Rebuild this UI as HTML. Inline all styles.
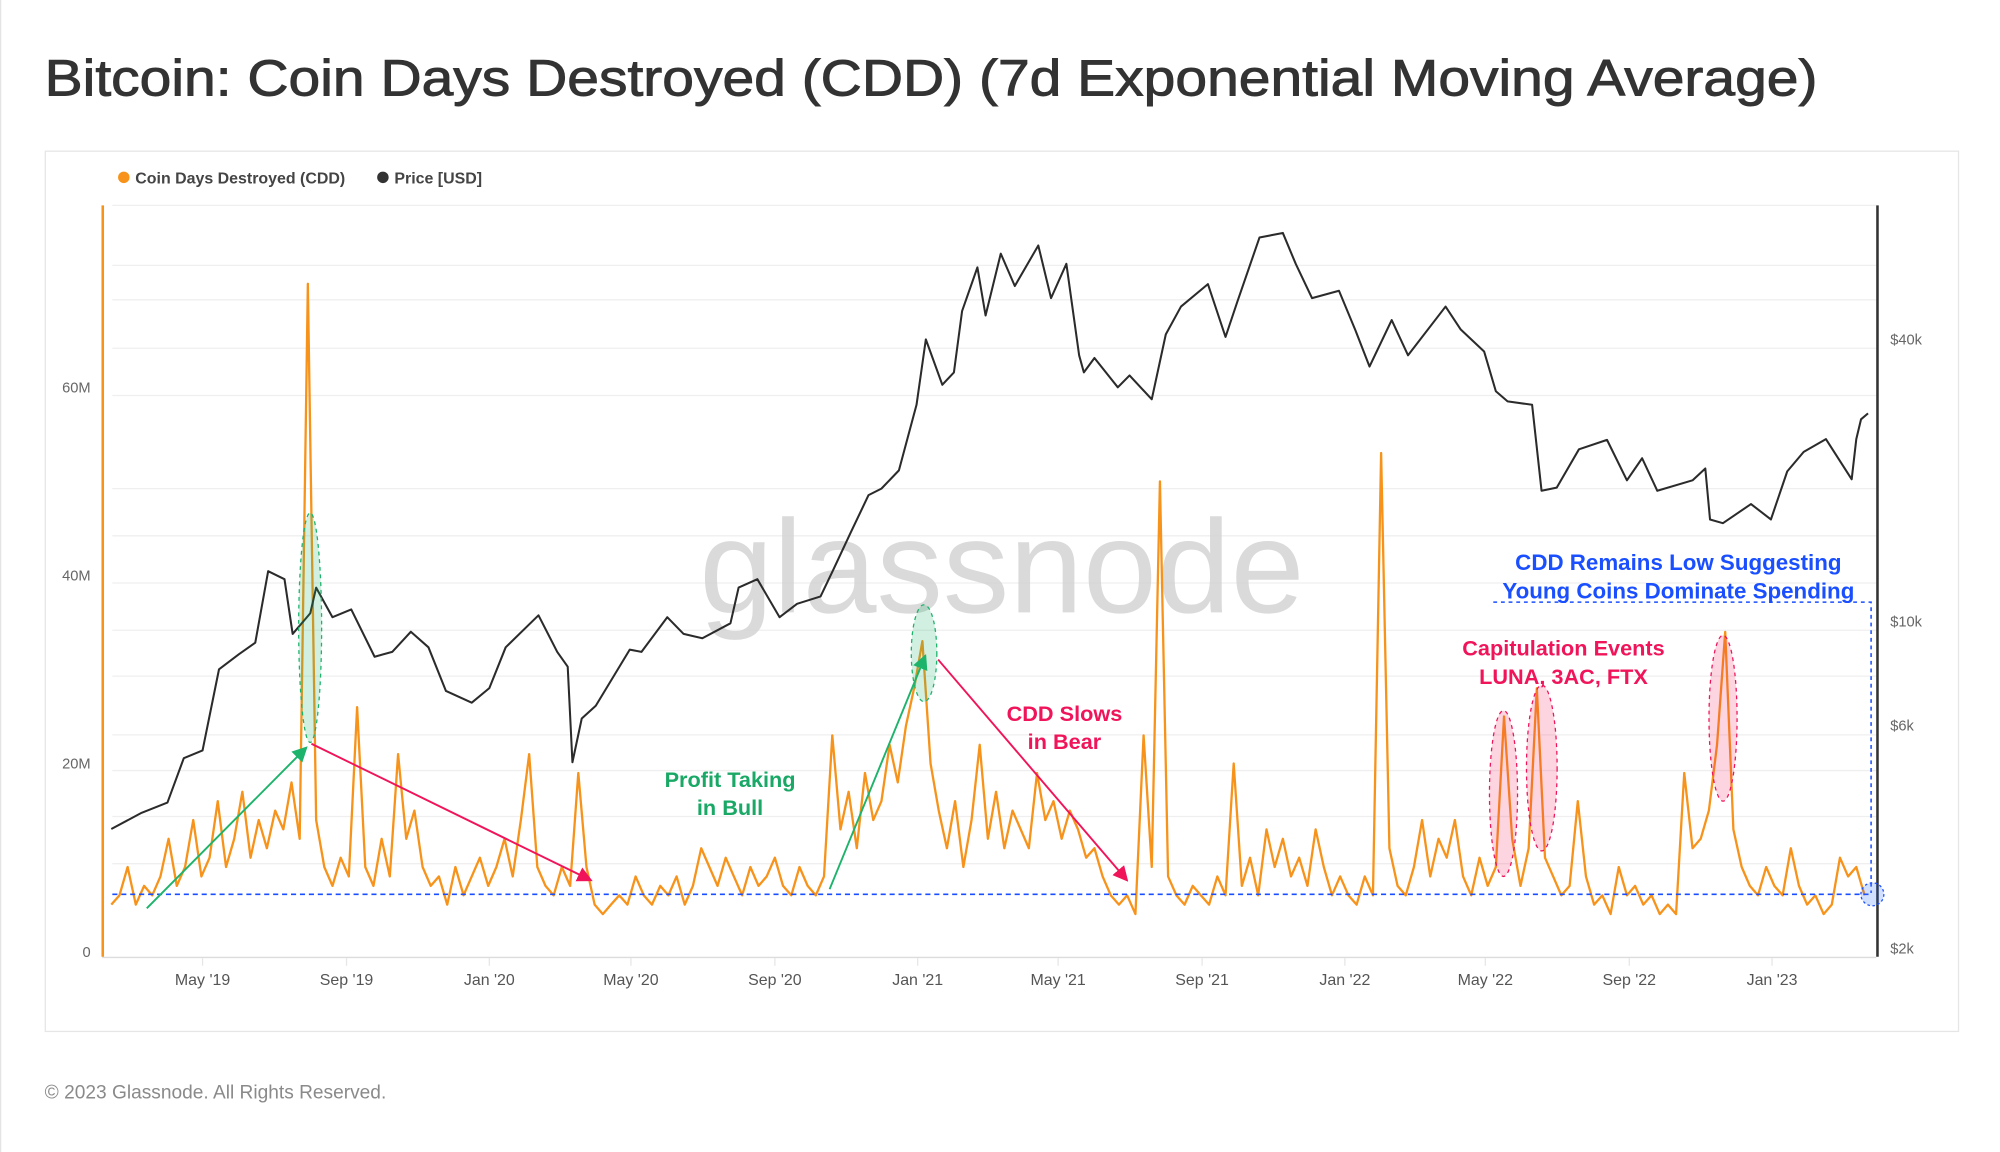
<!DOCTYPE html>
<html><head><meta charset="utf-8"><style>
html,body{margin:0;padding:0;background:#fff;}
svg{display:block;}
text{font-family:"Liberation Sans",sans-serif;}
</style></head><body>
<svg id="chart" width="2000" height="1152" viewBox="0 0 1567 903" preserveAspectRatio="none" xmlns="http://www.w3.org/2000/svg">
<rect x="0" y="0" width="1567" height="903" fill="#fff"/>
<line x1="0.5" y1="0" x2="0.5" y2="903" stroke="#e4e4e4"/>
<text x="35" y="75" font-size="40" fill="#333" stroke="#333" stroke-width="0.7" textLength="1389" lengthAdjust="spacingAndGlyphs">Bitcoin: Coin Days Destroyed (CDD) (7d Exponential Moving Average)</text>
<rect x="35.5" y="118.5" width="1499" height="690" fill="#fff" stroke="#e6e6e6"/>
<g>
<circle cx="97" cy="139" r="4.5" fill="#f7931a"/>
<text x="106" y="144" font-size="12.5" font-weight="bold" fill="#444">Coin Days Destroyed (CDD)</text>
<circle cx="300" cy="139" r="4.5" fill="#333"/>
<text x="309" y="144" font-size="12.5" font-weight="bold" fill="#444">Price [USD]</text>
</g>
<g id="grid"></g>
<g id="axes"></g>
<text x="785" y="480" font-size="104" fill="#d4d4d4" text-anchor="middle" opacity="0.85">glassnode</text>
<g id="series"></g>
<g id="annot">
<ellipse cx="243" cy="492" rx="9" ry="90" fill="rgba(30,180,110,0.2)" stroke="#1db36b" stroke-dasharray="3,3"/>
<ellipse cx="724" cy="512" rx="10" ry="38" fill="rgba(30,180,110,0.2)" stroke="#1db36b" stroke-dasharray="3,3"/>
<ellipse cx="1178" cy="622" rx="11" ry="65" fill="rgba(240,20,90,0.18)" stroke="#f0145a" stroke-dasharray="3,3"/>
<ellipse cx="1208" cy="602" rx="12" ry="65" fill="rgba(240,20,90,0.18)" stroke="#f0145a" stroke-dasharray="3,3"/>
<ellipse cx="1350" cy="563" rx="11" ry="65" fill="rgba(240,20,90,0.18)" stroke="#f0145a" stroke-dasharray="3,3"/>
<line x1="88" y1="701" x2="1466" y2="701" stroke="#1a4fff" stroke-width="1.2" stroke-dasharray="4,3"/>
<polyline points="1170,472 1466,472 1466,700" fill="none" stroke="#1a4fff" stroke-width="1.2" stroke-dasharray="3,3"/>
<circle cx="1467" cy="701" r="9" fill="rgba(30,100,255,0.2)" stroke="#1a4fff" stroke-dasharray="2,2"/>
<defs>
<marker id="ag" markerWidth="8" markerHeight="8" refX="7" refY="4" orient="auto"><path d="M0,0 L8,4 L0,8 z" fill="#1db36b"/></marker>
<marker id="ar" markerWidth="8" markerHeight="8" refX="7" refY="4" orient="auto"><path d="M0,0 L8,4 L0,8 z" fill="#f0145a"/></marker>
</defs>
<line x1="115" y1="712" x2="240" y2="586" stroke="#1db36b" stroke-width="1.5" marker-end="url(#ag)"/>
<line x1="650" y1="697" x2="725" y2="514" stroke="#1db36b" stroke-width="1.5" marker-end="url(#ag)"/>
<line x1="244" y1="583" x2="463" y2="690" stroke="#f0145a" stroke-width="1.5" marker-end="url(#ar)"/>
<line x1="735" y1="517" x2="883" y2="690" stroke="#f0145a" stroke-width="1.5" marker-end="url(#ar)"/>
<g font-weight="bold" font-size="17" text-anchor="middle">
<text x="572" y="617" fill="#1aa866">Profit Taking</text>
<text x="572" y="639" fill="#1aa866">in Bull</text>
<text x="834" y="565" fill="#f0145a">CDD Slows</text>
<text x="834" y="587" fill="#f0145a">in Bear</text>
<text x="1225" y="514" fill="#f0145a">Capitulation Events</text>
<text x="1225" y="536" fill="#f0145a">LUNA, 3AC, FTX</text>
<text x="1315" y="447" fill="#1a4fff" font-size="17.5">CDD Remains Low Suggesting</text>
<text x="1315" y="469" fill="#1a4fff" font-size="17.5">Young Coins Dominate Spending</text>
</g>
</g>
<text x="35" y="861" font-size="15" fill="#8a8a8a">© 2023 Glassnode. All Rights Reserved.</text>
</svg>
<script>
const NS="http://www.w3.org/2000/svg";
// CDD weekly values (millions), first week starting 2019-02-12
const cddStart="2019-02-12";
const cddValues=[5,6,9,5,7,6,8,12,7,9,
14,8,10,16,9,12,17,10,14,11,
15,13,18,12,71,14,9,7,10,8,
26,9,7,12,8,21,12,15,9,7,
8,5,9,6,8,10,7,9,12,8,
14,21,9,7,6,9,7,19,9,5,
4,5,6,5,8,6,5,7,6,8,
5,7,11,9,7,10,8,6,9,7,
8,10,7,6,9,7,6,8,23,13,
17,11,19,14,16,22,18,24,28,33,
20,15,11,16,9,14,22,12,17,11,
15,13,11,19,14,16,12,15,13,10,
11,8,6,5,6,4,23,9,50,8,
6,5,7,6,5,8,6,20,7,10,
6,13,9,12,8,10,7,13,9,6,
8,6,5,8,6,53,11,7,6,9,
14,8,12,10,14,8,6,10,7,9,
25,12,7,11,28,10,8,6,7,16,
8,5,6,4,9,6,7,5,6,4,
5,4,19,11,12,15,22,34,13,9,
7,6,9,7,6,11,7,5,6,4,
5,10,8,9,6];
const priceDates=["2019-02-12","2019-03-10","2019-04-01","2019-04-15","2019-05-01","2019-05-15","2019-06-01","2019-06-15","2019-06-26","2019-07-10","2019-07-17","2019-08-01","2019-08-06","2019-08-20","2019-09-05","2019-09-25","2019-10-10","2019-10-26","2019-11-10","2019-11-25","2019-12-17","2020-01-01","2020-01-15","2020-02-12","2020-02-28","2020-03-08","2020-03-12","2020-03-20","2020-04-01","2020-04-30","2020-05-10","2020-06-01","2020-06-15","2020-07-01","2020-07-25","2020-08-01","2020-08-17","2020-09-05","2020-09-20","2020-10-10","2020-10-21","2020-11-05","2020-11-20","2020-12-01","2020-12-16","2020-12-31","2021-01-08","2021-01-22","2021-02-01","2021-02-08","2021-02-21","2021-02-28","2021-03-13","2021-03-25","2021-04-14","2021-04-25","2021-05-08","2021-05-19","2021-05-23","2021-06-01","2021-06-21","2021-07-01","2021-07-20","2021-08-01","2021-08-14","2021-09-06","2021-09-21","2021-10-01","2021-10-20","2021-11-09","2021-11-20","2021-12-04","2021-12-27","2022-01-10","2022-01-22","2022-02-10","2022-02-24","2022-03-28","2022-04-10","2022-04-30","2022-05-10","2022-05-20","2022-06-10","2022-06-18","2022-07-01","2022-07-20","2022-08-13","2022-08-30","2022-09-12","2022-09-25","2022-10-25","2022-11-05","2022-11-09","2022-11-20","2022-12-14","2022-12-31","2023-01-14","2023-01-28","2023-02-16","2023-03-10","2023-03-14","2023-03-18","2023-03-24"];
const priceValues=[3600,3900,4100,5100,5300,7900,8500,9000,12800,12300,9400,10400,11800,10200,10600,8400,8600,9500,8800,7100,6700,7200,8800,10300,8600,8000,5000,6200,6600,8700,8600,10200,9400,9200,9900,11800,12300,10200,10900,11300,12900,15500,18600,19200,21000,29000,40000,32000,34000,46000,57000,45000,61000,52000,63500,49000,58000,37000,34000,36500,31600,33500,29800,41000,47000,52500,40500,48000,66000,67500,58000,49000,50800,41800,35000,44000,37000,47000,42000,37700,31000,29500,29000,19000,19300,23300,24400,20000,22300,19000,20000,21200,16500,16200,17800,16500,20900,23000,24500,20100,24500,27000,27800];
const leftTicks=[0,20,40,60];
const leftTickLabels=["0","20M","40M","60M"];
const rightTicks=[2000,6000,10000,40000];
const rightTickLabels=["$2k","$6k","$10k","$40k"];
const xTickDates=["2019-05-01","2019-09-01","2020-01-01","2020-05-01","2020-09-01","2021-01-01","2021-05-01","2021-09-01","2022-01-01","2022-05-01","2022-09-01","2023-01-01"];
const xTickLabels=["May '19","Sep '19","Jan '20","May '20","Sep '20","Jan '21","May '21","Sep '21","Jan '22","May '22","Sep '22","Jan '23"];

const DAY=86400000, ref=Date.UTC(2021,0,1);
function dayOf(s){const p=s.split("-");return (Date.UTC(+p[0],+p[1]-1,+p[2])-ref)/DAY;}
function xScale(d){return 719+d*0.917;}
function yLeft(v){return 746-v/20*147.5;}
function yRight(p){return 487-(Math.log10(p)-4)*367;}
function mk(tag,attrs,parent){const e=document.createElementNS(NS,tag);for(const k in attrs)e.setAttribute(k,attrs[k]);parent.appendChild(e);return e;}

const grid=document.getElementById("grid");
[161,208,235,273,310,383,420,457,494,530,576,604,640,677].forEach(y=>{
  const l=mk("line",{x1:88,x2:1470,y1:y,y2:y,stroke:"#efefef","stroke-width":1},grid);
  
  
});
const axes=document.getElementById("axes");
const xa=mk("line",{x1:80,x2:1470,y1:750.5,y2:750.5,stroke:"#dcdcdc"},axes);


const la=mk("line",{x1:80.5,x2:80.5,y1:161,y2:750,stroke:"#f7931a","stroke-width":2},axes);


const ra=mk("line",{x1:1471,x2:1471,y1:161,y2:750,stroke:"#333","stroke-width":2},axes);


leftTicks.forEach((v,i)=>{
  const t=mk("text",{x:71,y:yLeft(v)+4,"font-size":11.5,fill:"#666","text-anchor":"end"},axes);
  t.textContent=leftTickLabels[i];
  
  
});
rightTicks.forEach((v,i)=>{
  const t=mk("text",{x:1481,y:yRight(v)+4,"font-size":11.5,fill:"#666"},axes);
  t.textContent=rightTickLabels[i];
  
  
});
xTickDates.forEach((d,i)=>{
  const x=xScale(dayOf(d));
  const tk=mk("line",{x1:x,x2:x,y1:751,y2:757,stroke:"#e6e6e6"},axes);
  
  
  const t=mk("text",{x:x,y:772,"font-size":12.5,fill:"#555","text-anchor":"middle"},axes);
  t.textContent=xTickLabels[i];
  
  
});
const series=document.getElementById("series");
const d0=dayOf(cddStart);
const cddPts=cddValues.map((v,i)=>xScale(d0+i*7).toFixed(1)+","+yLeft(v).toFixed(1)).join(" ");
const cddLine=mk("polyline",{points:cddPts,fill:"none",stroke:"#f7931a","stroke-width":1.8,"stroke-linejoin":"round"},series);


const pPts=priceValues.map((v,i)=>xScale(dayOf(priceDates[i])).toFixed(1)+","+yRight(v).toFixed(1)).join(" ");
const pLine=mk("polyline",{points:pPts,fill:"none",stroke:"#2b2b2b","stroke-width":1.6,"stroke-linejoin":"round"},series);


</script>
</body></html>
